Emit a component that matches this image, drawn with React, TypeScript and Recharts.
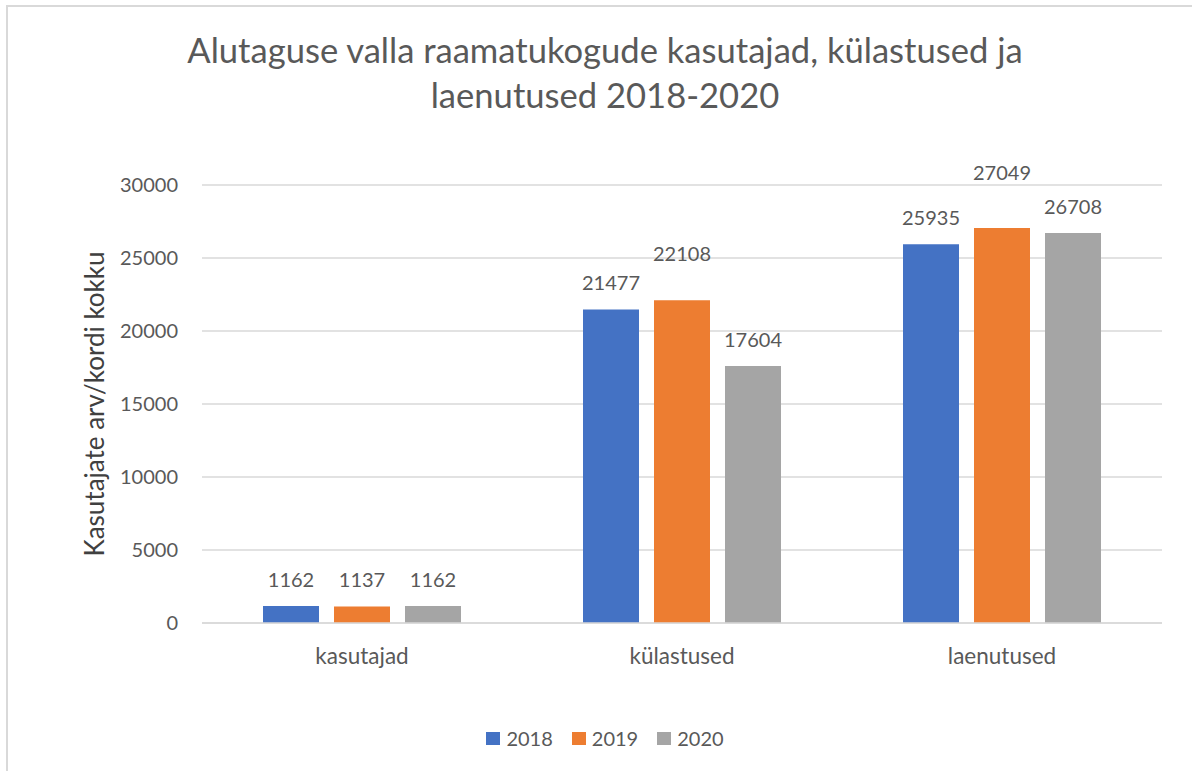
import { BarChart, Bar, XAxis, YAxis, CartesianGrid, LabelList } from "recharts";

const categories = ["kasutajad", "külastused", "laenutused"];
const values2018 = [1162, 21477, 25935];
const values2019 = [1137, 22108, 27049];
const values2020 = [1162, 17604, 26708];
const yTicks = [0, 5000, 10000, 15000, 20000, 25000, 30000];

// label nudges (px) where Excel lifted a label above the others
const lift2018 = [0, 0, 0];
const lift2019 = [0, 20, 29];
const lift2020 = [0, 0, 0];

const series = [
  { key: "y2018", name: "2018", color: "#4472C4", lift: lift2018 },
  { key: "y2019", name: "2019", color: "#ED7D31", lift: lift2019 },
  { key: "y2020", name: "2020", color: "#A5A5A5", lift: lift2020 },
];

const data = categories.map((c, i) => ({
  name: c,
  y2018: values2018[i],
  y2019: values2019[i],
  y2020: values2020[i],
}));

const FONT = "Lato, 'Open Sans', sans-serif";
const TEXT = "#595959";

function makeLabel(lift: number[]) {
  return (props: any) => {
    const { x, y, width, value, index } = props;
    return (
      <text
        x={x + width / 2}
        y={y - 19 - (lift[index] || 0)}
        textAnchor="middle"
        fill={TEXT}
        fontSize={20}
        fontFamily={FONT}
      >
        {value}
      </text>
    );
  };
}

function YTitle(props: any) {
  const vb = props.viewBox;
  const cx = vb.x + vb.width / 2 - 7;
  const cy = vb.y + vb.height / 2;
  return (
    <text
      transform={`translate(${cx},${cy}) rotate(-90)`}
      textAnchor="middle"
      dominantBaseline="central"
      fill="#404040"
      fontSize={26}
      fontFamily={FONT}
    >
      Kasutajate arv/kordi kokku
    </text>
  );
}

export default function App() {
  return (
    <div
      style={{
        position: "absolute",
        left: 0,
        top: 0,
        width: 1192,
        height: 771,
        overflow: "hidden",
        background: "#fff",
        fontFamily: FONT,
      }}
    >
      <div
        style={{
          position: "absolute",
          left: 6,
          top: 5,
          width: 1400,
          height: 1000,
          borderTop: "2px solid #d9d9d9",
          borderLeft: "2px solid #d9d9d9",
        }}
      />
      <div
        style={{
          position: "absolute",
          left: 0,
          top: 27,
          width: 1210,
          textAlign: "center",
          fontSize: 34.6,
          lineHeight: "45px",
          color: TEXT,
        }}
      >
        Alutaguse valla raamatukogude kasutajad, külastused ja
        <br />
        laenutused 2018-2020
      </div>

      <BarChart
        width={1192}
        height={771}
        data={data}
        margin={{ top: 185, right: 30, bottom: 118, left: 0 }}
        barCategoryGap={61}
        barGap={15}
        style={{ position: "absolute", left: 0, top: 0 }}
      >
        <CartesianGrid vertical={false} stroke="#d9d9d9" strokeWidth={1.3} />
        <XAxis
          dataKey="name"
          height={30}
          tickLine={false}
          tickSize={0}
          tickMargin={25}
          axisLine={{ stroke: "#d9d9d9", strokeWidth: 1.3 }}
          tick={{ fill: TEXT, fontSize: 22.5, fontFamily: FONT }}
        />
        <YAxis
          width={202}
          domain={[0, 30000]}
          ticks={yTicks}
          axisLine={false}
          tickLine={false}
          tickSize={0}
          tickMargin={24}
          tick={{ fill: TEXT, fontSize: 20, fontFamily: FONT }}
          label={<YTitle />}
        />
        {series.map((s) => (
          <Bar key={s.key} dataKey={s.key} name={s.name} fill={s.color} isAnimationActive={false}>
            <LabelList dataKey={s.key} content={makeLabel(s.lift)} />
          </Bar>
        ))}
      </BarChart>

      <div
        style={{
          position: "absolute",
          left: 0,
          top: 726,
          width: 1192,
          display: "flex",
          justifyContent: "center",
          paddingLeft: 18,
          boxSizing: "border-box",
        }}
      >
        {series.map((s, i) => (
          <div
            key={s.key}
            style={{
              display: "flex",
              alignItems: "center",
              marginLeft: i === 0 ? 0 : 19,
              fontSize: 20,
              color: TEXT,
              lineHeight: "24px",
            }}
          >
            <span style={{ width: 14, height: 13, background: s.color, display: "inline-block", marginRight: 6 }} />
            {s.name}
          </div>
        ))}
      </div>
    </div>
  );
}
